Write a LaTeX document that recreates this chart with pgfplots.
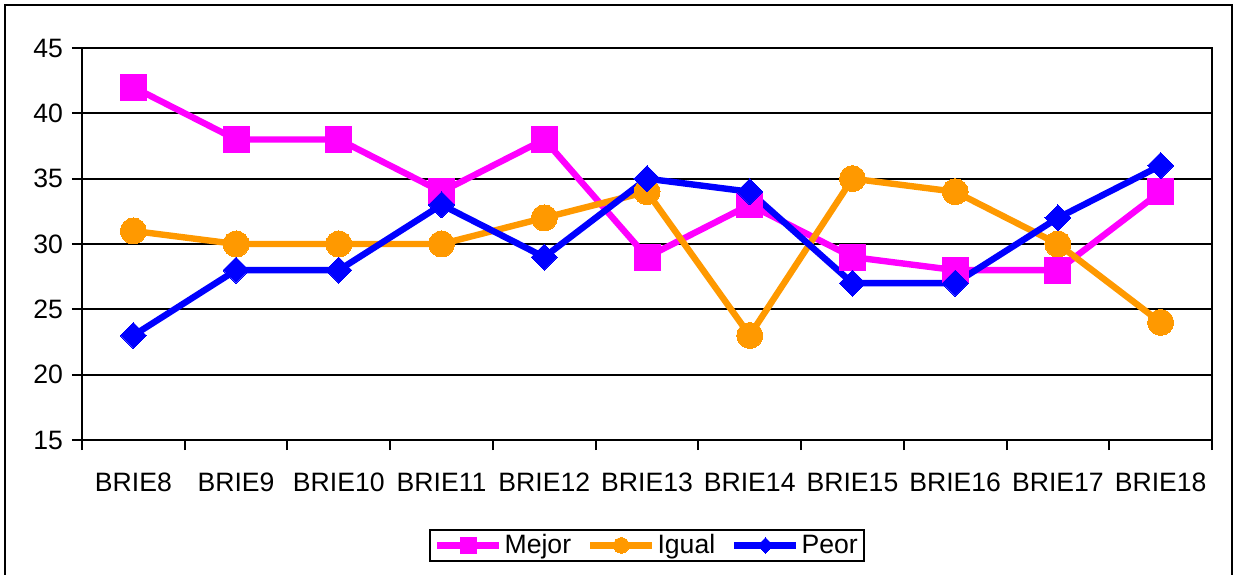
\documentclass[border=0pt]{standalone}
\usepackage{fontspec}
\setmainfont{Liberation Sans}
\usepackage{pgfplots}
\pgfplotsset{compat=1.18}
\definecolor{mejor}{RGB}{255,0,255}
\definecolor{igual}{RGB}{255,153,0}
\definecolor{peor}{RGB}{0,0,255}
\newcommand{\chartfont}{\fontsize{13.3bp}{15bp}\selectfont}
\begin{document}
\begin{tikzpicture}
\path[use as bounding box] (-41bp,-67.5bp) rectangle (578.5bp,220bp);
\clip (-41bp,-67.5bp) rectangle (578.5bp,220bp);
\draw[line width=1bp] (-38.5bp,-90bp) rectangle (575bp,217.5bp);
\begin{axis}[
    at={(0,0)}, anchor=south west,
    scale only axis,
    width=565bp, height=196bp,
    xmin=-0.5, xmax=10.5,
    ymin=15, ymax=45,
    xtick={0,...,10},
    xticklabels={BRIE8,BRIE9,BRIE10,BRIE11,BRIE12,BRIE13,BRIE14,BRIE15,BRIE16,BRIE17,BRIE18},
    minor xtick={-0.5,0.5,...,10.5},
    ytick={15,20,...,45},
    tick pos=left,
    tick align=outside,
    major tick length=5bp,
    minor tick length=5bp,
    major x tick style={draw=none},
    tick style={black, line width=1bp},
    ymajorgrids=true,
    grid style={black, line width=1bp},
    axis line style={line width=1bp},
    tick label style={font=\chartfont},
    xticklabel style={yshift=-8bp},
    yticklabel style={xshift=-1bp},
    /pgf/number format/assume math mode=true,
    legend style={
        at={(0.5,-0.269)}, anchor=center,
        legend columns=3,
        draw=black, line width=1bp,
        font=\chartfont,
        inner ysep=1bp, inner xsep=2bp,
        /tikz/every even column/.append style={column sep=7bp},
        nodes={inner sep=1bp},
    },
    legend image code/.code={
        \draw[#1, /tikz/every mark/.append style={scale=0.6}, mark repeat=2, mark phase=2]
            plot coordinates {(0bp,0bp) (15.5bp,0bp) (31bp,0bp)};
    },
]
\addplot[color=mejor, line width=3.2bp, mark=square*, mark size=6.5bp,
    mark options={solid, fill=mejor, draw=mejor, line width=0pt}]
    coordinates {(0,42) (1,38) (2,38) (3,34) (4,38) (5,29) (6,33) (7,29) (8,28) (9,28) (10,34)};
\addlegendentry{Mejor}
\addplot[color=igual, line width=3.2bp, mark=*, mark size=6.5bp,
    mark options={solid, fill=igual, draw=igual, line width=0pt}]
    coordinates {(0,31) (1,30) (2,30) (3,30) (4,32) (5,34) (6,23) (7,35) (8,34) (9,30) (10,24)};
\addlegendentry{Igual}
\addplot[color=peor, line width=3.2bp, mark=square*, mark size=4.6bp,
    mark options={solid, fill=peor, draw=peor, line width=0pt, rotate=45}]
    coordinates {(0,23) (1,28) (2,28) (3,33) (4,29) (5,35) (6,34) (7,27) (8,27) (9,32) (10,36)};
\addlegendentry{Peor}
\draw[line width=1.5bp] (rel axis cs:0,1) -- (rel axis cs:0,0) -- (rel axis cs:1,0);
\end{axis}
\end{tikzpicture}
\end{document}
